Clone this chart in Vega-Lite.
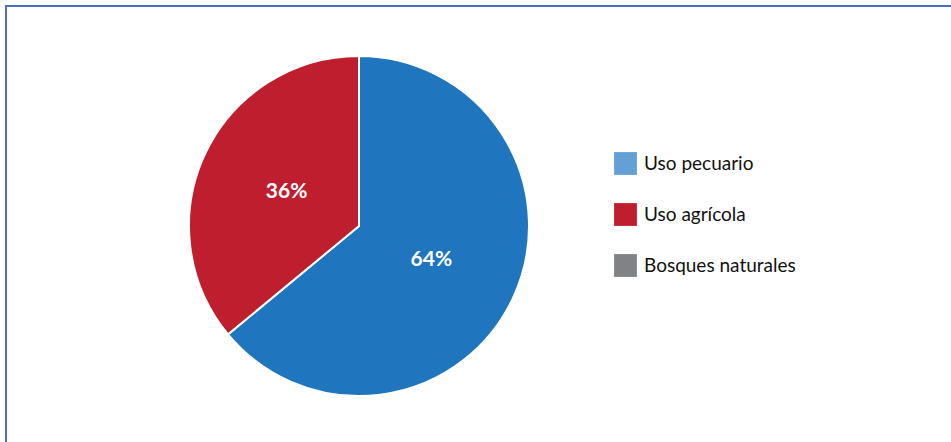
{
  "$schema": "https://vega.github.io/schema/vega-lite/v6.json",
  "width": 952,
  "height": 442,
  "padding": {"left": 6, "top": 6, "right": 0, "bottom": 0},
  "background": "white",
  "config": {
    "view": {"stroke": "#4a6fc0", "strokeWidth": 2},
    "font": "Lato"
  },
  "data": {
    "values": [
      {"categoria": "Uso pecuario", "valor": 64, "orden": 1, "etiqueta": "64%"},
      {"categoria": "Uso agrícola", "valor": 36, "orden": 2, "etiqueta": "36%"},
      {"categoria": "Bosques naturales", "valor": 0, "orden": 3, "etiqueta": ""}
    ]
  },
  "layer": [
    {
      "mark": {"type": "arc", "radius": 170, "stroke": "white", "strokeWidth": 2},
      "encoding": {
        "theta": {"field": "valor", "type": "quantitative", "stack": true},
        "order": {"field": "orden", "type": "quantitative"},
        "x": {"value": 353},
        "y": {"value": 220},
        "color": {
          "field": "categoria",
          "type": "nominal",
          "sort": ["Uso pecuario", "Uso agrícola", "Bosques naturales"],
          "scale": {"range": ["#1f75be", "#be1e2d", "#808285"]},
          "legend": null
        }
      }
    },
    {
      "transform": [{"filter": "datum.valor > 0"}],
      "mark": {"type": "text", "radius": 80, "fontSize": 21, "fontWeight": "bold", "fill": "white", "font": "Lato"},
      "encoding": {
        "theta": {"field": "valor", "type": "quantitative", "stack": true},
        "order": {"field": "orden", "type": "quantitative"},
        "x": {"value": 353},
        "y": {"value": 220},
        "text": {"field": "etiqueta"}
      }
    },
    {
      "mark": {"type": "square", "opacity": 0},
      "encoding": {
        "fill": {
          "field": "categoria",
          "type": "nominal",
          "sort": ["Uso pecuario", "Uso agrícola", "Bosques naturales"],
          "scale": {"range": ["#64a0d5", "#be1e2d", "#808285"]},
          "legend": {
            "title": null,
            "orient": "none",
            "legendX": 608,
            "legendY": 146,
            "symbolType": "square",
            "symbolSize": 520,
            "symbolStrokeWidth": 0,
            "symbolOpacity": 1,
            "labelFontSize": 19,
            "labelFont": "Lato",
            "labelColor": "#111111",
            "labelOffset": 7,
            "rowPadding": 28,
            "labelLimit": 300
          }
        }
      }
    }
  ]
}
